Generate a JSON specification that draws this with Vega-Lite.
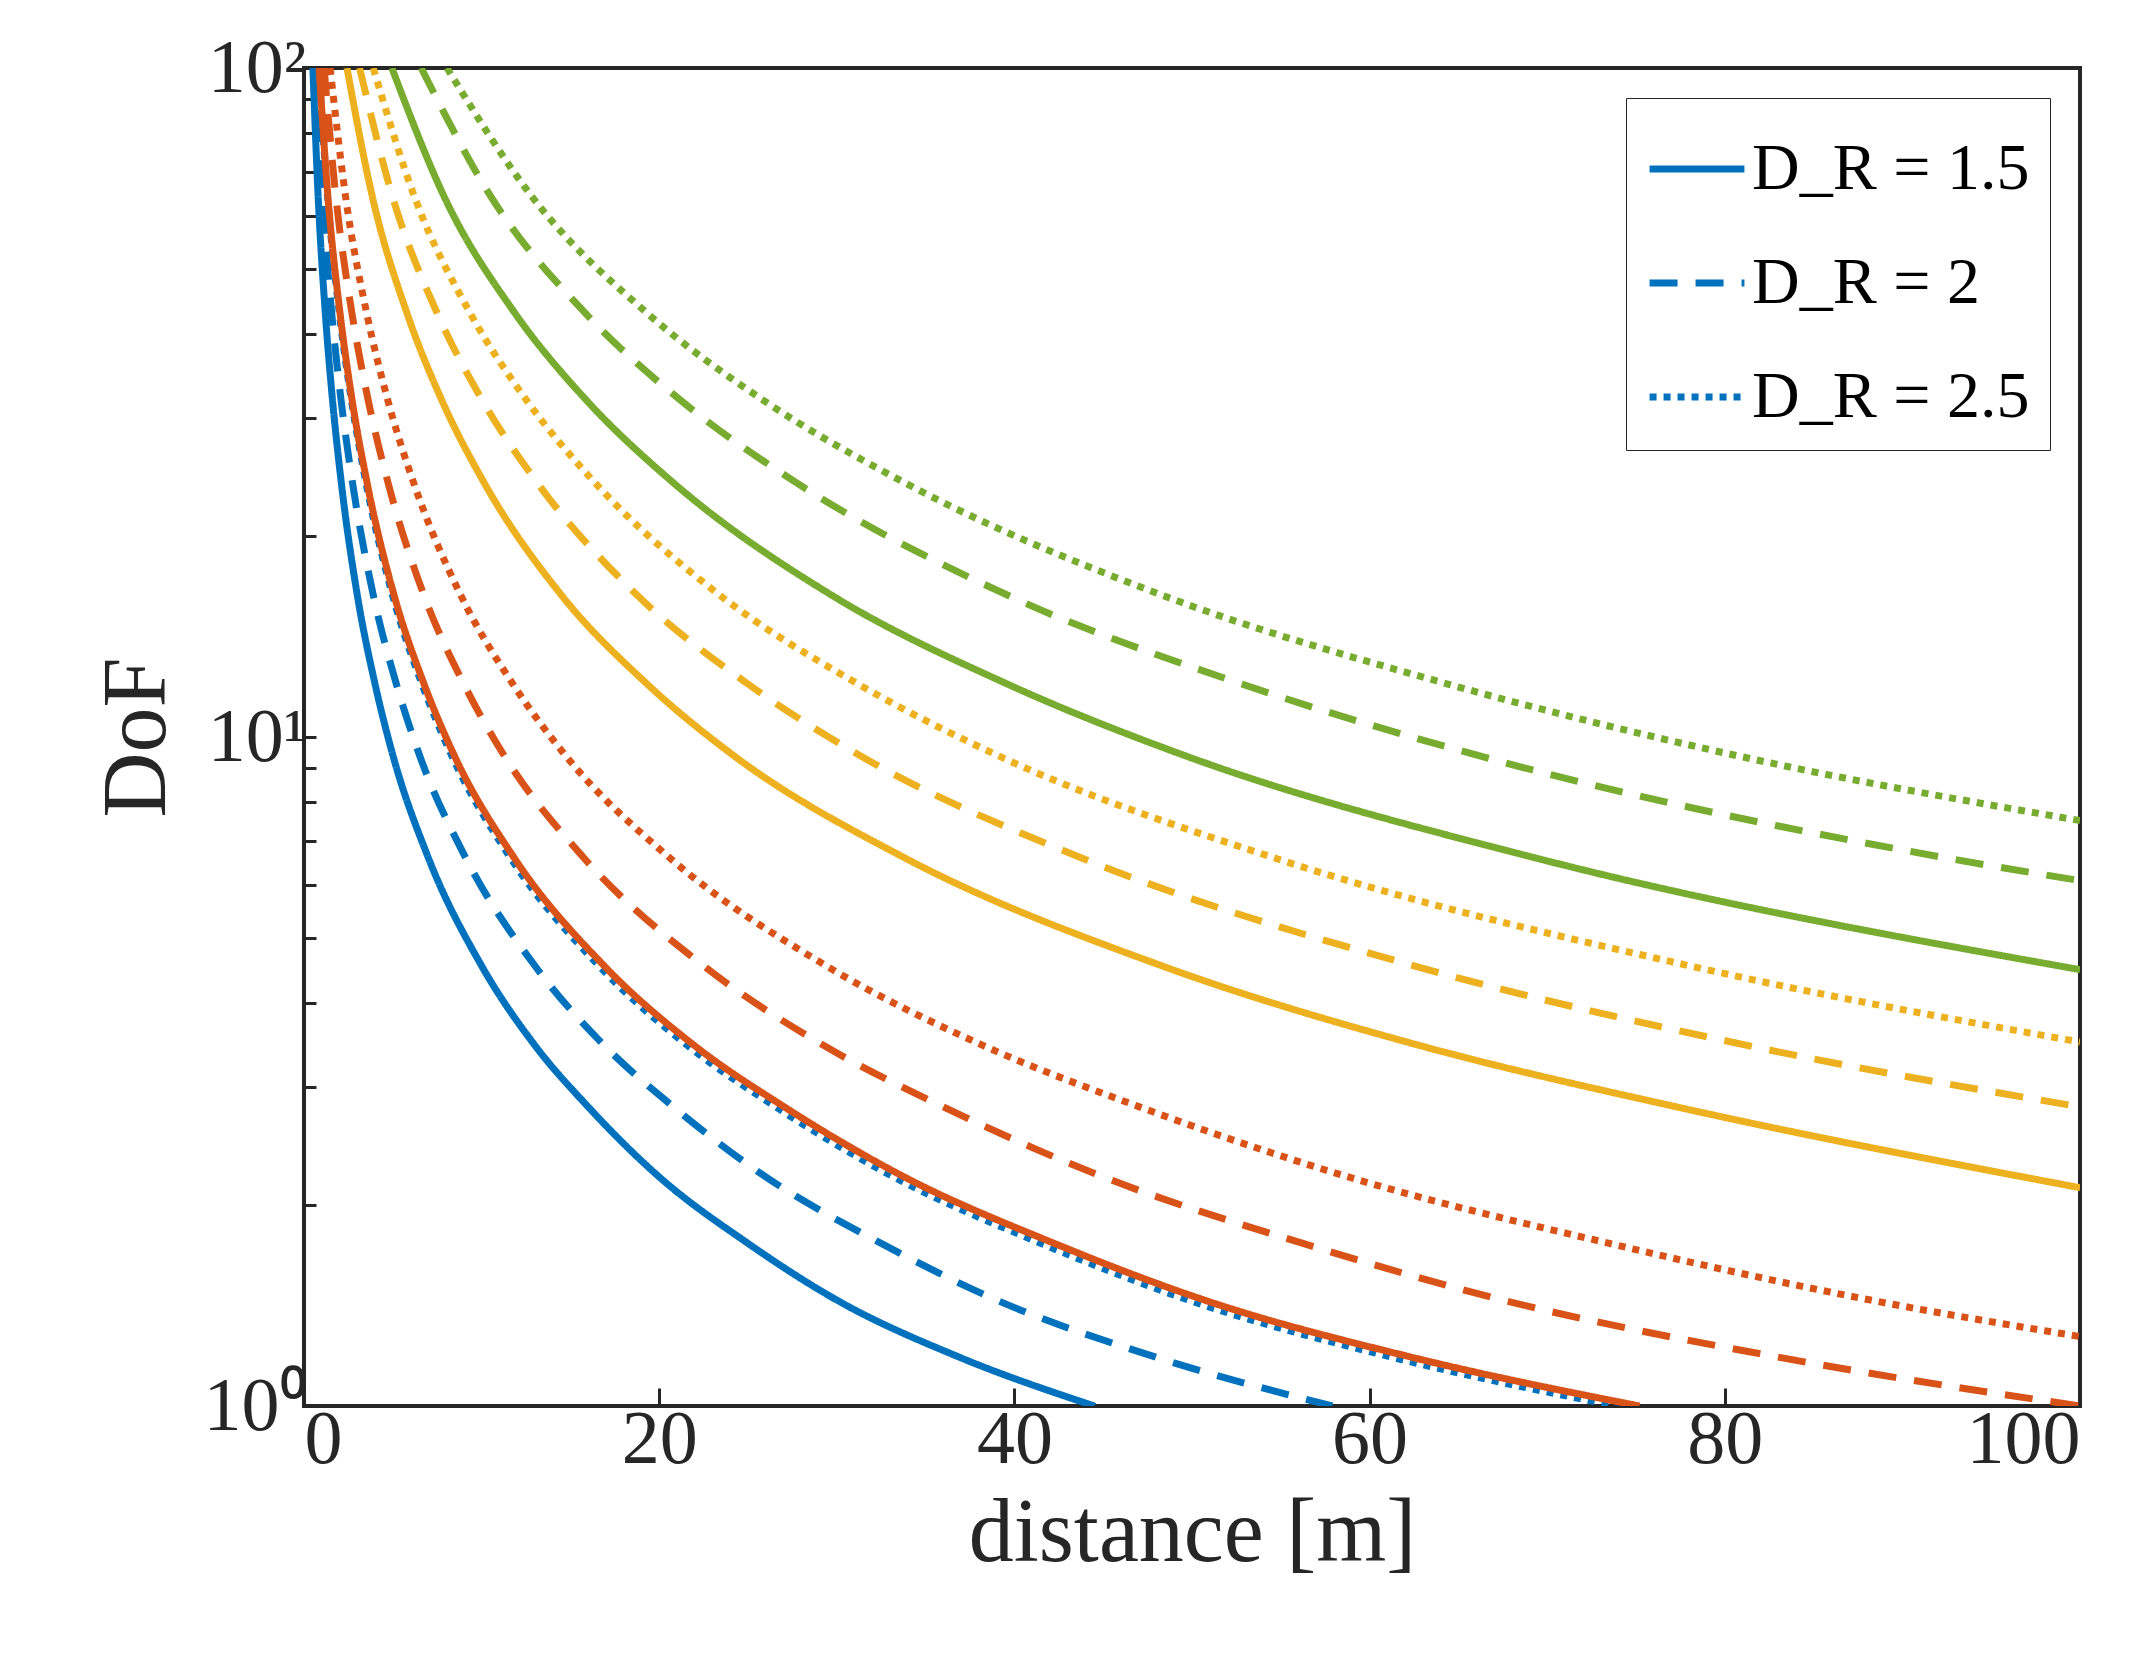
{
  "$schema": "https://vega.github.io/schema/vega-lite/v6.json",
  "width": 1776,
  "height": 1338,
  "padding": {"left": 92, "top": 30, "right": 80, "bottom": 10},
  "background": "white",
  "config": {
    "font": "Liberation Serif",
    "view": {"stroke": "#262626", "strokeWidth": 4},
    "axis": {"domain": false, "grid": false, "labelColor": "#262626", "titleColor": "#262626", "labelFont": "Liberation Serif", "titleFont": "Liberation Serif", "labelFontSize": 76, "titleFontSize": 90, "titleFontWeight": "normal", "tickColor": "#262626", "tickWidth": 3}
  },
  "data": {"values": [
    {"g":"blue","dr":"D_R = 1.5","d":0.5,"v":100},{"g":"blue","dr":"D_R = 1.5","d":0.8,"v":64},{"g":"blue","dr":"D_R = 1.5","d":1.2,"v":43},{"g":"blue","dr":"D_R = 1.5","d":1.6,"v":32},{"g":"blue","dr":"D_R = 1.5","d":2.1,"v":24},{"g":"blue","dr":"D_R = 1.5","d":3,"v":16.3},{"g":"blue","dr":"D_R = 1.5","d":4,"v":12},{"g":"blue","dr":"D_R = 1.5","d":5,"v":9.4},{"g":"blue","dr":"D_R = 1.5","d":7,"v":6.6},{"g":"blue","dr":"D_R = 1.5","d":10,"v":4.55},{"g":"blue","dr":"D_R = 1.5","d":13,"v":3.46},{"g":"blue","dr":"D_R = 1.5","d":16,"v":2.8},{"g":"blue","dr":"D_R = 1.5","d":20,"v":2.2},{"g":"blue","dr":"D_R = 1.5","d":25,"v":1.75},{"g":"blue","dr":"D_R = 1.5","d":30,"v":1.44},{"g":"blue","dr":"D_R = 1.5","d":37,"v":1.18},{"g":"blue","dr":"D_R = 1.5","d":44.5,"v":1},
    {"g":"blue","dr":"D_R = 2","d":0.65,"v":100},{"g":"blue","dr":"D_R = 2","d":1.04,"v":64},{"g":"blue","dr":"D_R = 2","d":1.56,"v":43},{"g":"blue","dr":"D_R = 2","d":2.08,"v":32},{"g":"blue","dr":"D_R = 2","d":2.73,"v":24},{"g":"blue","dr":"D_R = 2","d":3.9,"v":16.3},{"g":"blue","dr":"D_R = 2","d":5.2,"v":12},{"g":"blue","dr":"D_R = 2","d":6.5,"v":9.4},{"g":"blue","dr":"D_R = 2","d":9.1,"v":6.6},{"g":"blue","dr":"D_R = 2","d":13,"v":4.55},{"g":"blue","dr":"D_R = 2","d":16.9,"v":3.46},{"g":"blue","dr":"D_R = 2","d":20.8,"v":2.8},{"g":"blue","dr":"D_R = 2","d":26,"v":2.2},{"g":"blue","dr":"D_R = 2","d":32.5,"v":1.75},{"g":"blue","dr":"D_R = 2","d":39,"v":1.44},{"g":"blue","dr":"D_R = 2","d":48.1,"v":1.18},{"g":"blue","dr":"D_R = 2","d":57.9,"v":1},
    {"g":"blue","dr":"D_R = 2.5","d":0.83,"v":100},{"g":"blue","dr":"D_R = 2.5","d":1.33,"v":64},{"g":"blue","dr":"D_R = 2.5","d":1.99,"v":43},{"g":"blue","dr":"D_R = 2.5","d":2.66,"v":32},{"g":"blue","dr":"D_R = 2.5","d":3.49,"v":24},{"g":"blue","dr":"D_R = 2.5","d":4.98,"v":16.3},{"g":"blue","dr":"D_R = 2.5","d":6.64,"v":12},{"g":"blue","dr":"D_R = 2.5","d":8.3,"v":9.4},{"g":"blue","dr":"D_R = 2.5","d":11.62,"v":6.6},{"g":"blue","dr":"D_R = 2.5","d":16.6,"v":4.55},{"g":"blue","dr":"D_R = 2.5","d":21.58,"v":3.46},{"g":"blue","dr":"D_R = 2.5","d":26.56,"v":2.8},{"g":"blue","dr":"D_R = 2.5","d":33.2,"v":2.2},{"g":"blue","dr":"D_R = 2.5","d":41.5,"v":1.75},{"g":"blue","dr":"D_R = 2.5","d":49.8,"v":1.44},{"g":"blue","dr":"D_R = 2.5","d":61.42,"v":1.18},{"g":"blue","dr":"D_R = 2.5","d":73.9,"v":1},
    {"g":"red","dr":"D_R = 1.5","d":0.85,"v":100},{"g":"red","dr":"D_R = 1.5","d":1.35,"v":64},{"g":"red","dr":"D_R = 1.5","d":2.03,"v":43},{"g":"red","dr":"D_R = 1.5","d":2.7,"v":32},{"g":"red","dr":"D_R = 1.5","d":3.55,"v":24},{"g":"red","dr":"D_R = 1.5","d":5.07,"v":16.3},{"g":"red","dr":"D_R = 1.5","d":6.76,"v":12},{"g":"red","dr":"D_R = 1.5","d":8.45,"v":9.4},{"g":"red","dr":"D_R = 1.5","d":11.83,"v":6.6},{"g":"red","dr":"D_R = 1.5","d":16.9,"v":4.55},{"g":"red","dr":"D_R = 1.5","d":21.97,"v":3.46},{"g":"red","dr":"D_R = 1.5","d":27.04,"v":2.8},{"g":"red","dr":"D_R = 1.5","d":33.8,"v":2.2},{"g":"red","dr":"D_R = 1.5","d":42.25,"v":1.75},{"g":"red","dr":"D_R = 1.5","d":50.7,"v":1.44},{"g":"red","dr":"D_R = 1.5","d":62.53,"v":1.18},{"g":"red","dr":"D_R = 1.5","d":75.2,"v":1},
    {"g":"red","dr":"D_R = 2","d":1.13,"v":100},{"g":"red","dr":"D_R = 2","d":1.8,"v":64},{"g":"red","dr":"D_R = 2","d":2.7,"v":43},{"g":"red","dr":"D_R = 2","d":3.6,"v":32},{"g":"red","dr":"D_R = 2","d":4.73,"v":24},{"g":"red","dr":"D_R = 2","d":6.75,"v":16.3},{"g":"red","dr":"D_R = 2","d":9,"v":12},{"g":"red","dr":"D_R = 2","d":11.25,"v":9.4},{"g":"red","dr":"D_R = 2","d":15.75,"v":6.6},{"g":"red","dr":"D_R = 2","d":22.5,"v":4.55},{"g":"red","dr":"D_R = 2","d":29.25,"v":3.46},{"g":"red","dr":"D_R = 2","d":36,"v":2.8},{"g":"red","dr":"D_R = 2","d":45,"v":2.2},{"g":"red","dr":"D_R = 2","d":56.25,"v":1.75},{"g":"red","dr":"D_R = 2","d":67.5,"v":1.44},{"g":"red","dr":"D_R = 2","d":83.25,"v":1.18},{"g":"red","dr":"D_R = 2","d":100,"v":1},
    {"g":"red","dr":"D_R = 2.5","d":1.47,"v":100},{"g":"red","dr":"D_R = 2.5","d":2.35,"v":64},{"g":"red","dr":"D_R = 2.5","d":3.53,"v":43},{"g":"red","dr":"D_R = 2.5","d":4.7,"v":32},{"g":"red","dr":"D_R = 2.5","d":6.17,"v":24},{"g":"red","dr":"D_R = 2.5","d":8.82,"v":16.3},{"g":"red","dr":"D_R = 2.5","d":11.76,"v":12},{"g":"red","dr":"D_R = 2.5","d":14.7,"v":9.4},{"g":"red","dr":"D_R = 2.5","d":20.58,"v":6.6},{"g":"red","dr":"D_R = 2.5","d":29.4,"v":4.55},{"g":"red","dr":"D_R = 2.5","d":38.22,"v":3.46},{"g":"red","dr":"D_R = 2.5","d":47.04,"v":2.8},{"g":"red","dr":"D_R = 2.5","d":58.8,"v":2.2},{"g":"red","dr":"D_R = 2.5","d":73.5,"v":1.75},{"g":"red","dr":"D_R = 2.5","d":88.2,"v":1.44},{"g":"red","dr":"D_R = 2.5","d":100,"v":1.27},
    {"g":"yellow","dr":"D_R = 1.5","d":2.42,"v":100},{"g":"yellow","dr":"D_R = 1.5","d":3.86,"v":64},{"g":"yellow","dr":"D_R = 1.5","d":5.8,"v":43},{"g":"yellow","dr":"D_R = 1.5","d":7.73,"v":32},{"g":"yellow","dr":"D_R = 1.5","d":10.14,"v":24},{"g":"yellow","dr":"D_R = 1.5","d":14.49,"v":16.3},{"g":"yellow","dr":"D_R = 1.5","d":19.32,"v":12},{"g":"yellow","dr":"D_R = 1.5","d":24.15,"v":9.4},{"g":"yellow","dr":"D_R = 1.5","d":33.81,"v":6.6},{"g":"yellow","dr":"D_R = 1.5","d":48.3,"v":4.55},{"g":"yellow","dr":"D_R = 1.5","d":62.79,"v":3.46},{"g":"yellow","dr":"D_R = 1.5","d":77.28,"v":2.8},{"g":"yellow","dr":"D_R = 1.5","d":100,"v":2.12},
    {"g":"yellow","dr":"D_R = 2","d":3.13,"v":100},{"g":"yellow","dr":"D_R = 2","d":5,"v":64},{"g":"yellow","dr":"D_R = 2","d":7.5,"v":43},{"g":"yellow","dr":"D_R = 2","d":10,"v":32},{"g":"yellow","dr":"D_R = 2","d":13.13,"v":24},{"g":"yellow","dr":"D_R = 2","d":18.75,"v":16.3},{"g":"yellow","dr":"D_R = 2","d":25,"v":12},{"g":"yellow","dr":"D_R = 2","d":31.25,"v":9.4},{"g":"yellow","dr":"D_R = 2","d":43.75,"v":6.6},{"g":"yellow","dr":"D_R = 2","d":62.5,"v":4.55},{"g":"yellow","dr":"D_R = 2","d":81.25,"v":3.46},{"g":"yellow","dr":"D_R = 2","d":100,"v":2.8},
    {"g":"yellow","dr":"D_R = 2.5","d":3.9,"v":100},{"g":"yellow","dr":"D_R = 2.5","d":6.24,"v":64},{"g":"yellow","dr":"D_R = 2.5","d":9.36,"v":43},{"g":"yellow","dr":"D_R = 2.5","d":12.48,"v":32},{"g":"yellow","dr":"D_R = 2.5","d":16.38,"v":24},{"g":"yellow","dr":"D_R = 2.5","d":23.4,"v":16.3},{"g":"yellow","dr":"D_R = 2.5","d":31.2,"v":12},{"g":"yellow","dr":"D_R = 2.5","d":39,"v":9.4},{"g":"yellow","dr":"D_R = 2.5","d":54.6,"v":6.6},{"g":"yellow","dr":"D_R = 2.5","d":78,"v":4.55},{"g":"yellow","dr":"D_R = 2.5","d":100,"v":3.5},
    {"g":"green","dr":"D_R = 1.5","d":4.95,"v":100},{"g":"green","dr":"D_R = 1.5","d":7.92,"v":64},{"g":"green","dr":"D_R = 1.5","d":11.88,"v":43},{"g":"green","dr":"D_R = 1.5","d":15.84,"v":32},{"g":"green","dr":"D_R = 1.5","d":20.79,"v":24},{"g":"green","dr":"D_R = 1.5","d":29.7,"v":16.3},{"g":"green","dr":"D_R = 1.5","d":39.6,"v":12},{"g":"green","dr":"D_R = 1.5","d":49.5,"v":9.4},{"g":"green","dr":"D_R = 1.5","d":69.3,"v":6.6},{"g":"green","dr":"D_R = 1.5","d":100,"v":4.49},
    {"g":"green","dr":"D_R = 2","d":6.6,"v":100},{"g":"green","dr":"D_R = 2","d":10.56,"v":64},{"g":"green","dr":"D_R = 2","d":15.84,"v":43},{"g":"green","dr":"D_R = 2","d":21.12,"v":32},{"g":"green","dr":"D_R = 2","d":27.72,"v":24},{"g":"green","dr":"D_R = 2","d":39.6,"v":16.3},{"g":"green","dr":"D_R = 2","d":52.8,"v":12},{"g":"green","dr":"D_R = 2","d":66,"v":9.4},{"g":"green","dr":"D_R = 2","d":92.4,"v":6.6},{"g":"green","dr":"D_R = 2","d":100,"v":6.1},
    {"g":"green","dr":"D_R = 2.5","d":8.05,"v":100},{"g":"green","dr":"D_R = 2.5","d":12.88,"v":64},{"g":"green","dr":"D_R = 2.5","d":19.32,"v":43},{"g":"green","dr":"D_R = 2.5","d":25.76,"v":32},{"g":"green","dr":"D_R = 2.5","d":33.81,"v":24},{"g":"green","dr":"D_R = 2.5","d":48.3,"v":16.3},{"g":"green","dr":"D_R = 2.5","d":64.4,"v":12},{"g":"green","dr":"D_R = 2.5","d":80.5,"v":9.4},{"g":"green","dr":"D_R = 2.5","d":100,"v":7.5}
  ]},
  "mark": {"type": "line", "strokeWidth": 7, "interpolate": "monotone", "clip": true},
  "encoding": {
    "x": {"field": "d", "type": "quantitative", "title": "distance [m]", "scale": {"domain": [0, 100], "nice": false}, "axis": {"values": [0, 20, 40, 60, 80, 100], "tickSize": -18, "labelPadding": 14, "titlePadding": 12}},
    "y": {"field": "v", "type": "quantitative", "title": "DoF", "scale": {"type": "log", "domain": [1, 100]}, "axis": {"values": [1,2,3,4,5,6,7,8,9,10,20,30,40,50,60,70,80,90,100], "tickSize": -12, "labelPadding": 10, "titlePadding": 20, "labelExpr": "datum.value == 1 ? '10⁰' : datum.value == 10 ? '10¹' : datum.value == 100 ? '10²' : ''"}},
    "color": {"field": "g", "type": "nominal", "legend": null, "scale": {"domain": ["blue", "red", "yellow", "green"], "range": ["#0072BD", "#D95319", "#EDB120", "#77AC30"]}},
    "strokeDash": {"field": "dr", "type": "nominal", "title": null, "scale": {"domain": ["D_R = 1.5", "D_R = 2", "D_R = 2.5"], "range": [[1, 0], [28, 18], [7, 7]]},
      "legend": {"orient": "top-right", "offset": 30, "symbolType": "stroke", "symbolStrokeColor": "#0072BD", "symbolStrokeWidth": 7, "symbolSize": 9000, "labelFontSize": 66, "labelFont": "Liberation Serif", "labelColor": "black", "rowPadding": 30, "padding": 20, "strokeColor": "#262626", "fillColor": "white", "labelLimit": 700}},
    "detail": {"field": "g"}
  }
}
